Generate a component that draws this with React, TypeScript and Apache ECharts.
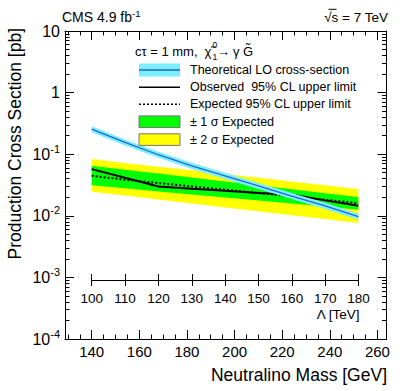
import React, { useEffect, useRef } from "react";
import * as echarts from "echarts";

// ---- data ----
const lambdaTeV = [100, 110, 120, 130, 140, 150, 160, 170, 180];
const massGeV = [140, 154, 168, 182, 196, 210, 224, 238, 252];
const theoryXsec = [0.255, 0.155, 0.098, 0.0646, 0.0445, 0.0305, 0.0209, 0.0145, 0.00966];
const theoryHi = [0.2856, 0.1736, 0.1098, 0.0724, 0.0498, 0.0342, 0.0234, 0.01624, 0.01082];
const theoryLo = [0.2277, 0.1384, 0.0875, 0.0577, 0.0397, 0.0272, 0.01866, 0.01295, 0.00863];
const observed = [0.0573, 0.0414, 0.03, 0.0275, 0.0255, 0.0234, 0.0222, 0.0178, 0.0146];
const expected = [0.0447, 0.0385, 0.034, 0.03, 0.0265, 0.0234, 0.0207, 0.0182, 0.016];
const exp1Hi = [0.0649, 0.0561, 0.0484, 0.0419, 0.0361, 0.0313, 0.027, 0.0233, 0.0202];
const exp1Lo = [0.0313, 0.0279, 0.0249, 0.0222, 0.0199, 0.0177, 0.0158, 0.0141, 0.01256];
const exp2Hi = [0.0832, 0.0723, 0.0628, 0.0547, 0.0475, 0.0413, 0.0359, 0.0313, 0.0272];
const exp2Lo = [0.0246, 0.0213, 0.0184, 0.0159, 0.0137, 0.0119, 0.0102, 0.00885, 0.00764];

const xMajorTicks = [140, 160, 180, 200, 220, 240, 260];
const xMinorTicks = [130, 135, 145, 150, 155, 165, 170, 175, 185, 190, 195, 205, 210, 215, 225, 230, 235, 245, 250, 255];
const yDecades = [-4, -3, -2, -1, 0];
const yMinorLog: number[] = [];
yDecades.forEach((k) => {
  for (let m = 2; m <= 9; m++) yMinorLog.push(k + Math.log10(m));
});

const legendLabels = [
  "Theoretical LO cross-section",
  "Observed  95% CL upper limit",
  "Expected 95% CL upper limit",
  "± 1 σ Expected",
  "± 2 σ Expected",
];

const FF = '"Liberation Sans", Arial, Helvetica, sans-serif';
const X_MIN = 128.8;
const X_MAX = 263.8;
const Y_MIN = 1e-4;
const Y_MAX = 10;

const CYAN = "#7AF0FF";
const BLUE = "#2364D2";
const GREEN = "#00FF00";
const YELLOW = "#FFFF00";

const black = { color: "#000", width: 1 };

function xAx(position: string, ticks: number[], len: number, showLine: boolean, showLabel: boolean) {
  return {
    type: "value",
    gridIndex: 0,
    min: X_MIN,
    max: X_MAX,
    position,
    axisLine: { show: showLine, onZero: false, lineStyle: black },
    axisTick: { show: true, inside: true, length: len, customValues: ticks, lineStyle: black },
    axisLabel: showLabel
      ? { show: true, customValues: ticks, fontSize: 15, fontFamily: FF, color: "#000", margin: 5 }
      : { show: false },
    splitLine: { show: false },
  };
}

function yLogAx(position: string, showLabel: boolean) {
  return {
    type: "log",
    logBase: 10,
    gridIndex: 0,
    min: Y_MIN,
    max: Y_MAX,
    position,
    axisLine: { show: true, onZero: false, lineStyle: black },
    axisTick: { show: true, inside: true, length: 9, lineStyle: black },
    axisLabel: showLabel
      ? {
          show: true,
          margin: 5,
          fontSize: 16,
          fontFamily: FF,
          color: "#000",
          formatter: (v: number) => {
            const e = Math.round(Math.log10(v));
            if (e === 1) return "10";
            if (e === 0) return "1";
            return `{b|10}{s|${e}}`;
          },
          rich: {
            b: { fontSize: 16, fontFamily: FF, color: "#000", lineHeight: 22 },
            s: { fontSize: 11, fontFamily: FF, color: "#000", verticalAlign: "top", lineHeight: 22 },
          },
        }
      : { show: false },
    splitLine: { show: false },
  };
}

function yMinorAx(position: string) {
  return {
    type: "value",
    gridIndex: 0,
    min: -4,
    max: 1,
    position,
    axisLine: { show: false, onZero: false },
    axisTick: { show: true, inside: true, length: 4.5, customValues: yMinorLog, lineStyle: black },
    axisLabel: { show: false },
    splitLine: { show: false },
  };
}

function band(lo: number[], hi: number[], color: string, z: number) {
  return {
    type: "custom",
    xAxisIndex: 0,
    yAxisIndex: 0,
    z,
    silent: true,
    data: massGeV.map((m, i) => [m, lo[i], hi[i]]),
    encode: { x: 0, y: [1, 2] },
    renderItem: (params: any, api: any) => {
      if (params.dataIndex !== 0) return null;
      const top = massGeV.map((m, i) => api.coord([m, hi[i]]));
      const bot = massGeV.map((m, i) => api.coord([m, lo[i]])).reverse();
      return { type: "polygon", shape: { points: top.concat(bot) }, style: { fill: color } };
    },
  };
}

function txt(text: string, x: number, y: number, size: number, align = "left", extra: any = {}) {
  return {
    type: "text",
    x,
    y,
    z: 100,
    ...extra,
    style: {
      text,
      fontSize: size,
      fontFamily: FF,
      fill: "#000",
      textAlign: align,
      textVerticalAlign: "middle",
      ...(extra.style || {}),
    },
  };
}

const LX0 = 139;
const LX1 = 180;
const TX = 190;
const rowY = [70, 87.3, 104.3, 121.7, 139.6];

export default function App() {
  const ref = useRef<HTMLDivElement>(null);
  useEffect(() => {
    if (!ref.current) return;
    const chart = echarts.init(ref.current, undefined, { renderer: "svg" });
    const option: any = {
      animation: false,
      backgroundColor: "#fff",
      grid: [
        { left: 65, top: 31, width: 321.5, height: 308, containLabel: false },
        { left: 91.7, top: 274, width: 266.9, height: 6, containLabel: false },
      ],
      xAxis: [
        xAx("bottom", xMajorTicks, 9, true, true),
        xAx("bottom", xMinorTicks, 4.5, false, false),
        xAx("top", xMajorTicks, 9, true, false),
        xAx("top", xMinorTicks, 4.5, false, false),
        {
          type: "value",
          gridIndex: 1,
          min: lambdaTeV[0],
          max: lambdaTeV[lambdaTeV.length - 1],
          interval: 10,
          position: "bottom",
          axisLine: { show: true, onZero: false, lineStyle: black },
          axisTick: { show: true, inside: true, length: 6, lineStyle: black },
          axisLabel: { show: false },
          splitLine: { show: false },
        },
        {
          type: "value",
          gridIndex: 1,
          min: lambdaTeV[0],
          max: lambdaTeV[lambdaTeV.length - 1],
          interval: 10,
          position: "bottom",
          axisLine: { show: false, onZero: false },
          axisTick: { show: true, inside: false, length: 6, lineStyle: black },
          axisLabel: { show: true, interval: 0, fontSize: 13.5, fontFamily: FF, color: "#000", margin: 11 },
          splitLine: { show: false },
        },
      ],
      yAxis: [
        yLogAx("left", true),
        yMinorAx("left"),
        yLogAx("right", false),
        yMinorAx("right"),
        { type: "value", gridIndex: 1, show: false, min: 0, max: 1 },
      ],
      series: [
        band(exp2Lo, exp2Hi, YELLOW, 1),
        band(exp1Lo, exp1Hi, GREEN, 2),
        {
          type: "line",
          xAxisIndex: 0,
          yAxisIndex: 0,
          z: 3,
          symbol: "none",
          data: massGeV.map((m, i) => [m, expected[i]]),
          lineStyle: { color: "#000", width: 2, type: [2, 2] },
        },
        {
          type: "line",
          xAxisIndex: 0,
          yAxisIndex: 0,
          z: 4,
          symbol: "none",
          data: massGeV.map((m, i) => [m, observed[i]]),
          lineStyle: { color: "#000", width: 2 },
        },
        band(theoryLo, theoryHi, CYAN, 5),
        {
          type: "line",
          xAxisIndex: 0,
          yAxisIndex: 0,
          z: 6,
          symbol: "none",
          data: massGeV.map((m, i) => [m, theoryXsec[i]]),
          lineStyle: { color: BLUE, width: 1.3 },
        },
      ],
      graphic: [
        // top labels
        {
          type: "text",
          x: 62,
          y: 17,
          z: 100,
          style: {
            text: "{a|CMS 4.9 fb}{s|-1}",
            textVerticalAlign: "middle",
            rich: {
              a: { fontSize: 14, fontFamily: FF, fill: "#000", lineHeight: 18 },
              s: { fontSize: 9.5, fontFamily: FF, fill: "#000", verticalAlign: "top", lineHeight: 18 },
            },
          },
        },
        txt("√s = 7 TeV", 388, 17, 13.5, "right"),
        { type: "line", z: 101, shape: { x1: 328.5, y1: 9.3, x2: 336.5, y2: 9.3 }, style: { stroke: "#000", lineWidth: 1 } },
        // axis titles
        txt("Neutralino Mass [GeV]", 387, 375, 17.5, "right"),
        txt("Production Cross Section [pb]", 15, 28, 17.5, "right", { rotation: Math.PI / 2 }),
        txt("Λ [TeV]", 359.5, 314.5, 13.5, "right"),
        // legend header
        txt("cτ = 1 mm,", 135, 51, 13),
        txt("χ̃", 204.5, 51, 13),
        txt("0", 212.5, 44.5, 8.5),
        txt("1", 212.5, 57, 8.5),
        txt("→", 217, 51, 13),
        txt("γ", 233, 51, 13),
        txt("G̃", 243, 51, 13),
        // legend symbols
        { type: "rect", z: 100, shape: { x: LX0, y: 63.5, width: LX1 - LX0, height: 13 }, style: { fill: CYAN } },
        { type: "line", z: 101, shape: { x1: LX0, y1: rowY[0], x2: LX1, y2: rowY[0] }, style: { stroke: BLUE, lineWidth: 1.5 } },
        { type: "line", z: 101, shape: { x1: LX0, y1: rowY[1], x2: LX1, y2: rowY[1] }, style: { stroke: "#000", lineWidth: 1.5 } },
        { type: "line", z: 101, shape: { x1: LX0, y1: rowY[2], x2: LX1, y2: rowY[2] }, style: { stroke: "#000", lineWidth: 1.5, lineDash: [2, 2] } },
        { type: "rect", z: 100, shape: { x: LX0, y: rowY[3] - 5.8, width: LX1 - LX0, height: 11.6 }, style: { fill: GREEN, stroke: "#777", lineWidth: 1 } },
        { type: "rect", z: 100, shape: { x: LX0, y: rowY[4] - 5.8, width: LX1 - LX0, height: 11.6 }, style: { fill: YELLOW, stroke: "#777", lineWidth: 1 } },
        ...legendLabels.map((t, i) => txt(t, TX, rowY[i], 12.5)),
      ],
    };
    chart.setOption(option);
    return () => chart.dispose();
  }, []);
  return <div ref={ref} style={{ width: 407, height: 391, position: "absolute", left: 0, top: 0 }} />;
}
